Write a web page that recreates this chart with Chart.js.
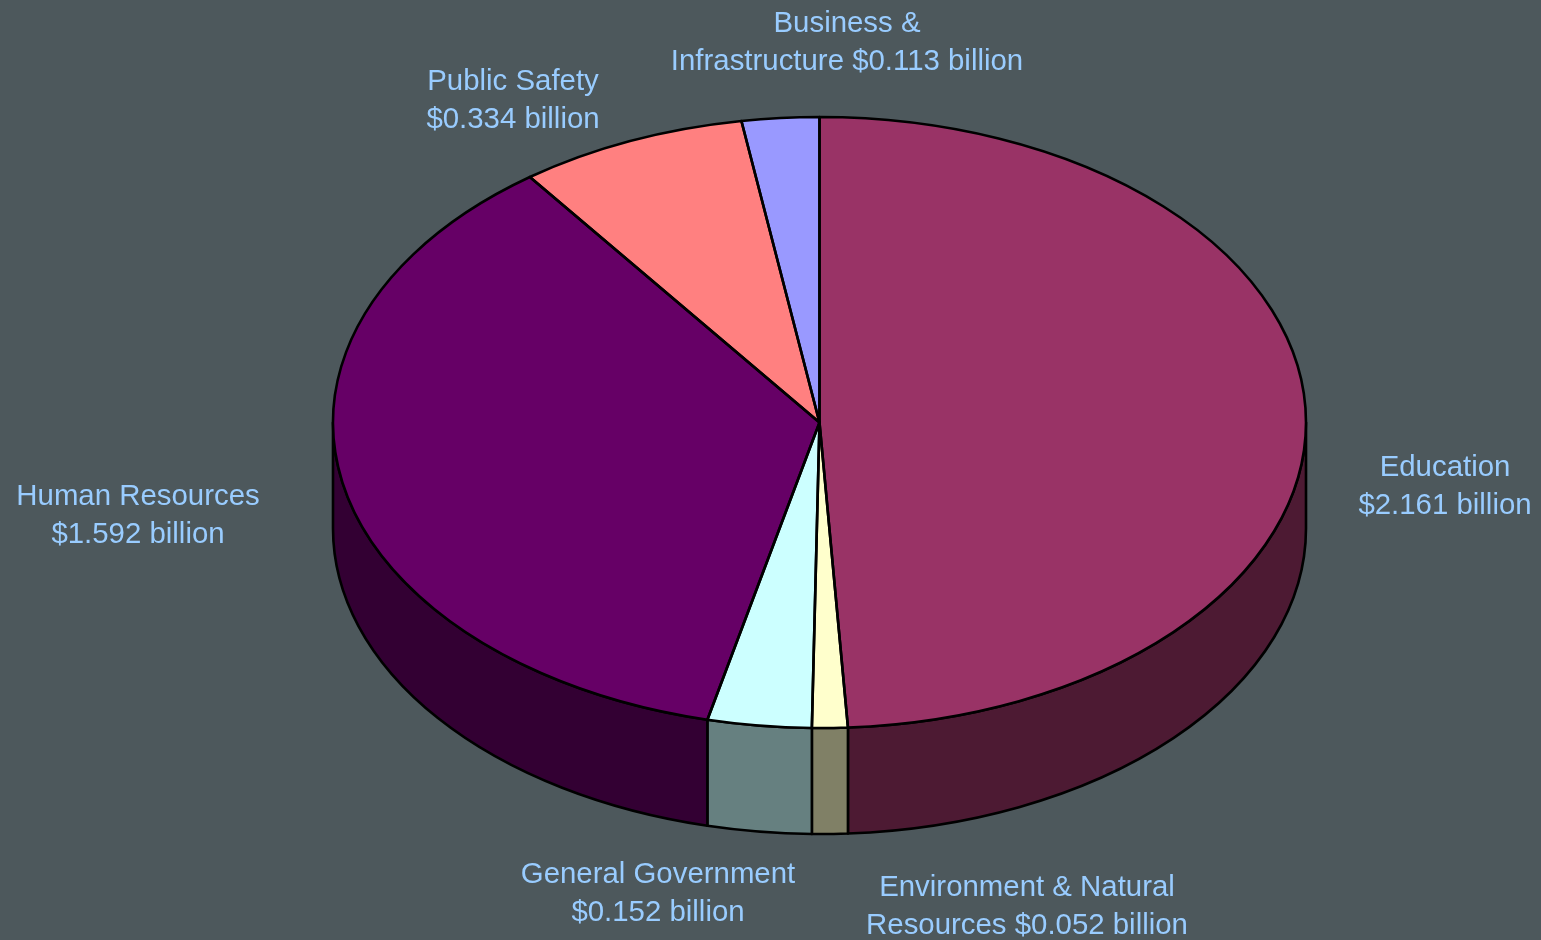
<!DOCTYPE html>
<html lang="en">
<head>
  <meta charset="UTF-8">
  <title>Budget by Function</title>
  <script src="https://cdn.jsdelivr.net/npm/chart.js"></script>
  <style>
    html, body { margin: 0; padding: 0; background: #4d585c; overflow: hidden; }
    canvas { display: block; }
  </style>
</head>
<body>
  <canvas id="budgetChart" width="1541" height="940"></canvas>

  <script>
    // Values in billions of dollars, clockwise from 12 o'clock
    const categories = ['Education', 'Environment & Natural Resources', 'General Government', 'Human Resources', 'Public Safety', 'Business & Infrastructure'];
    const values = [2.161, 0.052, 0.152, 1.592, 0.334, 0.113];
    const topColors = ['#993366', '#ffffcc', '#ccffff', '#660066', '#ff8080', '#9999ff'];
    const sideColors = ['#4d1a33', '#808066', '#668080', '#330033', '#804040', '#4d4d80'];
    const labelLines = [
      ['Education', '$2.161 billion'],
      ['Environment & Natural', 'Resources $0.052 billion'],
      ['General Government', '$0.152 billion'],
      ['Human Resources', '$1.592 billion'],
      ['Public Safety', '$0.334 billion'],
      ['Business &', 'Infrastructure $0.113 billion']
    ];
    // Where each label block sits: centre x, first baseline y
    const labelAnchors = [[1445, 476], [1027, 896], [658, 883], [138, 505], [513, 90], [847, 32]];

    const squash = 305.5 / 486.5; // tilt of the pie
    const depth = 106;
    const lineHeight = 38;

    function squashed(ctx, x, y) {
      ctx.translate(x, y);
      ctx.scale(1, squash);
      ctx.translate(-x, -y);
    }

    // Fakes the 3D look: draws the rim below the pie, then squashes the real pie arcs
    const tiltPlugin = {
      id: 'tilt',
      beforeDatasetsDraw(chart) {
        const ctx = chart.ctx;
        chart.getDatasetMeta(0).data.forEach((arc, i) => {
          const from = Math.max(arc.startAngle, 0);
          const to = Math.min(arc.endAngle, Math.PI);
          if (to <= from) return;
          ctx.save();
          squashed(ctx, arc.x, arc.y);
          ctx.beginPath();
          ctx.arc(arc.x, arc.y, arc.outerRadius, from, to);
          ctx.arc(arc.x, arc.y + depth / squash, arc.outerRadius, to, from, true);
          ctx.closePath();
          ctx.restore();
          ctx.fillStyle = sideColors[i];
          ctx.fill();
          ctx.lineWidth = 2.6;
          ctx.strokeStyle = '#000';
          ctx.lineJoin = 'round';
          ctx.stroke();
        });
        const first = chart.getDatasetMeta(0).data[0];
        ctx.save();
        squashed(ctx, first.x, first.y);
      },
      afterDatasetsDraw(chart) {
        const ctx = chart.ctx;
        ctx.restore();
        // outlines after the restore so the line width stays even all round
        chart.getDatasetMeta(0).data.forEach(arc => {
          ctx.save();
          squashed(ctx, arc.x, arc.y);
          ctx.beginPath();
          ctx.moveTo(arc.x, arc.y);
          ctx.arc(arc.x, arc.y, arc.outerRadius, arc.startAngle, arc.endAngle);
          ctx.closePath();
          ctx.restore();
          ctx.lineWidth = 2.6;
          ctx.strokeStyle = '#000';
          ctx.lineJoin = 'round';
          ctx.stroke();
        });
        // labels
        ctx.save();
        ctx.font = '29.4px "Liberation Sans", Arial, sans-serif';
        ctx.fillStyle = '#99ccff';
        ctx.textAlign = 'center';
        ctx.textBaseline = 'alphabetic';
        labelLines.forEach((lines, i) => {
          lines.forEach((line, j) => {
            ctx.fillText(line, labelAnchors[i][0], labelAnchors[i][1] + j * lineHeight);
          });
        });
        ctx.restore();
      }
    };

    const ctx = document.getElementById('budgetChart').getContext('2d');
    new Chart(ctx, {
      type: 'pie',
      data: {
        labels: categories,
        datasets: [{
          data: values,
          backgroundColor: topColors,
          borderWidth: 0,
          clip: false
        }]
      },
      options: {
        responsive: false,
        animation: false,
        radius: 486.5,
        layout: { padding: { left: 98, bottom: 95 } },
        plugins: {
          legend: { display: false },
          tooltip: { enabled: false }
        }
      },
      plugins: [tiltPlugin]
    });
  </script>
</body>
</html>
